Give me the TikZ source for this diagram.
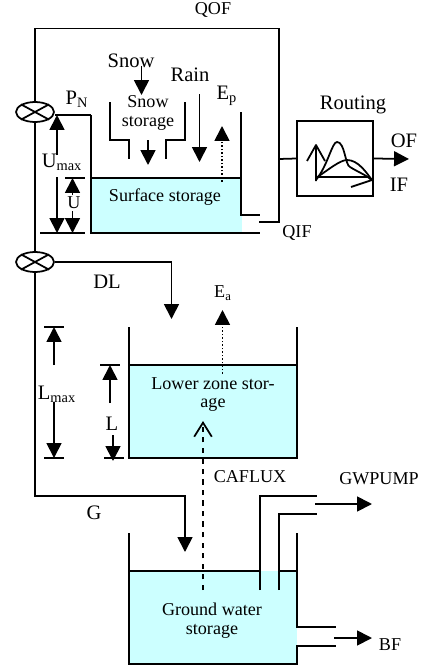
\documentclass[tikz,border=0pt]{standalone}
\usepackage{fontspec}
\setmainfont{Liberation Serif}
\usetikzlibrary{arrows.meta,positioning,shapes.geometric}
\definecolor{watercol}{HTML}{CCFFFF}
\tikzset{
	pipe/.style={line width=1pt},
	flow/.style={line width=1pt, -{Triangle[length=8.5pt,width=8.5pt]}},
	water/.style={fill=watercol, draw=none},
	valve/.style={draw, ellipse, line width=1pt, minimum width=0.76cm, minimum height=0.4cm, inner sep=0pt},
	lbl/.style={inner sep=0pt, font=\fontsize{10.3}{10.3}\selectfont},
	biglbl/.style={inner sep=0pt, font=\fontsize{11.7}{11.7}\selectfont},
}
\newcommand{\valvecross}[1]{\draw[pipe] (#1.north west) -- (#1.south east) (#1.north east) -- (#1.south west);}

\begin{document}
\begin{tikzpicture}[x=0.02cm,y=-0.02cm]
	\useasboundingbox (0,0) rectangle (421,666);

	% water
	\fill[water] (91,178) rectangle (242,233);
	\fill[water] (129,365) rectangle (297,458);
	\fill[water] (129,571) rectangle (297,664);

	% valves and routing box
	\node[valve] (valveP) at (35,112) {};
	\node[valve] (valveD) at (35,262) {};
	\valvecross{valveP}
	\valvecross{valveD}
	\node[draw, line width=1pt, minimum width=1.52cm, minimum height=1.5cm, inner sep=0pt] (routing) at (335,158.5) {};

	% labels
	\node[lbl] (qof) at (213,10) {QOF};
	\node[biglbl] (snow) at (131,61) {Snow};
	\node[biglbl] (rain) at (190,75) {Rain};
	\node[biglbl] (pn) at (77,99) {P\textsubscript{N}};
	\node[lbl] (snowst) at (148,102) {Snow};
	\node[lbl] (snowst2) at (148,123) {storage};
	\node[biglbl] (ep) at (227,96) {E\textsubscript{p}};
	\node[biglbl] (umax) at (62,162) {U\textsubscript{max}};
	\node[lbl] (u) at (74,203) {U};
	\node[lbl] (surface) at (165,197) {Surface storage};
	\node[biglbl] (rout) at (353,105) {Routing};
	\node[biglbl] (of) at (404,141) {OF};
	\node[biglbl] (if) at (399,185) {IF};
	\node[lbl] (qif) at (297,233) {QIF};
	\node[biglbl] (dl) at (107,282) {DL};
	\node[lbl] (ea) at (223,293) {E\textsubscript{a}};
	\node[biglbl] (lmax) at (57,394) {L\textsubscript{max}};
	\node[biglbl] (l) at (112,424) {L};
	\node[lbl] (lower) at (213,384) {Lower zone stor-};
	\node[lbl] (lower2) at (213,405) {age};
	\node[lbl] (caflux) at (250,477) {CAFLUX};
	\node[lbl] (gwpump) at (379,479) {GWPUMP};
	\node[biglbl] (g) at (94,513) {G};
	\node[lbl] (ground) at (212,609) {Ground water};
	\node[lbl] (ground2) at (212,631) {storage};
	\node[lbl] (bf) at (390,645) {BF};

	% free ends of the connectors
	\coordinate (qifend) at (259,222);
	\coordinate (junct) at (279,159);
	\coordinate (ofend) at (409,159);
	\coordinate (pnend) at (91,115);
	\coordinate (dlend) at (171.5,319);
	\coordinate (gend) at (185,552);
	\coordinate (snowtop) at (141.5,66);
	\coordinate (snowend) at (141.5,95);
	\coordinate (raintop) at (199.5,94);
	\coordinate (rainend) at (199.5,162);
	\coordinate (binout) at (148,140);
	\coordinate (binend) at (148,165);
	\coordinate (epstart) at (222,182);
	\coordinate (epend) at (222,126);
	\coordinate (eastart) at (222.5,374);
	\coordinate (eaend) at (222.5,310);
	\coordinate (capstart) at (203,590);
	\coordinate (capend) at (203,421);
	\coordinate (pumpstart) at (315,504);
	\coordinate (pumpend) at (372,504);
	\coordinate (bfstart) at (334,638);
	\coordinate (bfend) at (372,638);

	% connectors
	\draw[pipe] (valveP) -- (35,28.5) -| (junct) |- (qifend);
	\draw[pipe] (valveP) -- (valveD);
	\draw[pipe] (valveD.south) -- (35,496) -| (185,530);
	\draw[flow] (185,530) -- (gend);
	\draw[pipe] (valveP.east |- pnend) -- (pnend);
	\draw[flow] (valveD.east) -| (dlend);
	\draw[pipe] (junct) -- (routing.west);
	\draw[flow] (routing.east) -- (ofend);
	\draw[flow] (snowtop) -- (snowend);
	\draw[flow] (raintop) -- (rainend);
	\draw[flow] (binout) -- (binend);
	\draw[flow, densely dotted] (epstart) -- (epend);
	\draw[flow, densely dotted] (eastart) -- (eaend);
	\draw[line width=1pt, dashed, -{Straight Barb[length=8pt,width=10pt]}] (capstart) -- (capend);
	\draw[flow] (pumpstart) -- (pumpend);
	\draw[flow] (bfstart) -- (bfend);

	% surface store
	\draw[pipe] (pnend) -- (91,233) -- (260,233);
	\draw[pipe] (91,178) -- (241,178);
	\draw[pipe] (241,112) -- (241,215) -- (260,215);
	\draw[pipe] (110,102) -- (110,140) -- (129,140) -- (129,159);
	\draw[pipe] (185,102) -- (185,140) -- (166,140) -- (166,159);

	% surface dimensions
	\draw[flow] (57,155) -- (57,115);
	\draw[flow] (57,177) -- (57,233);
	\draw[flow] (72.5,195) -- (72.5,178);
	\draw[flow] (72.5,211) -- (72.5,233);
	\draw[pipe] (65,178) -- (85,178);
	\draw[pipe] (40,233) -- (85,233);

	% routing sketch
	\draw[pipe, line join=round] (307,161) -- (316,145) -- (316,181);
	\draw[pipe] (316,145) -- (325,161);
	\draw[pipe] (316,177) -- (368,177) -- (372,180) -- (351,187);
	\draw[pipe] (316,180) .. controls (328,165) and (332,142) .. (337,142) .. controls (345,142) and (345,165) .. (350,167) .. controls (358,172) and (366,175) .. (372,180);
	\draw[pipe] (316,178) .. controls (328,170) and (340,160) .. (347,160) .. controls (358,160) and (366,172) .. (372,180);

	% lower tank
	\draw[pipe] (129,327) -- (129,458) -- (297,458) -- (297,327);
	\draw[pipe] (129,365) -- (297,365);

	% lower dimensions
	\draw[pipe] (44,327) -- (64,327);
	\draw[flow] (54,365) -- (54,327);
	\draw[flow] (54,402) -- (54,458);
	\draw[pipe] (44,458) -- (64,458);
	\draw[pipe] (100,365) -- (120,365);
	\draw[flow] (110,403) -- (110,365);
	\draw[flow] (113,435) -- (113,461);
	\draw[pipe] (104,458) -- (124,458);

	% ground water tank
	\draw[pipe] (129,533) -- (129,664) -- (297,664) -- (297,646) -- (336,646);
	\draw[pipe] (297,533) -- (297,627) -- (336,627);
	\draw[pipe] (129,571) -- (260,571);
	\draw[pipe] (279,571) -- (297,571);
	\draw[pipe] (260,590) -- (260,496) -- (317,496);
	\draw[pipe] (279,590) -- (279,514) -- (317,514);
\end{tikzpicture}
\end{document}
